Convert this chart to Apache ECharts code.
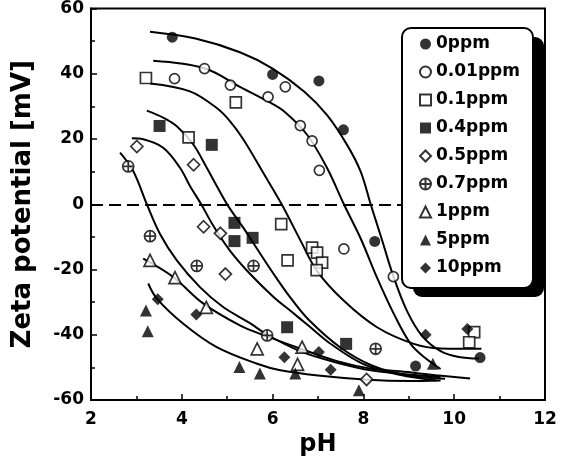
<!DOCTYPE html>
<html>
<head>
<meta charset="utf-8">
<script src="https://cdn.jsdelivr.net/npm/echarts@6/dist/echarts.min.js"></script>
<style>
  html, body { margin: 0; padding: 0; background: #fff; }
  #chart { width: 562px; height: 463px; }
</style>
</head>
<body>
<div id="chart"></div>
<script>
// legend names
var names = ['0ppm', '0.01ppm', '0.1ppm', '0.4ppm', '0.5ppm', '0.7ppm', '1ppm', '5ppm', '10ppm'];

// measured points [pH, mV]
var pts0 = [[3.79, 51.2], [6.0, 39.8], [7.02, 37.8], [7.56, 22.8], [8.25, -11.4], [9.15, -49.6], [10.57, -47]];
var pts001 = [[3.84, 38.5], [4.5, 41.6], [5.07, 36.5], [5.9, 32.9], [6.28, 36], [6.61, 24.1], [6.87, 19.4], [7.03, 10.4], [7.57, -13.7], [8.66, -22.2]];
var pts01 = [[3.21, 38.7], [4.15, 20.5], [5.19, 31.2], [6.19, -6.1], [6.33, -17.2], [6.87, -13.3], [6.98, -14.8], [7.09, -17.9], [6.97, -20.2], [10.44, -39.2], [10.33, -42.3]];
var pts04 = [[3.51, 24], [4.66, 18.2], [5.16, -5.7], [5.16, -11.3], [5.56, -10.3], [6.32, -37.7], [7.62, -42.8]];
var pts05 = [[3.01, 17.7], [4.26, 12.1], [4.48, -6.9], [4.85, -8.9], [4.96, -21.4], [8.07, -53.7]];
var pts07 = [[2.82, 11.6], [3.3, -9.8], [4.33, -18.9], [5.58, -18.9], [5.88, -40.2], [8.27, -44.3]];
var pts1 = [[3.3, -17.2], [3.85, -22.5], [4.54, -31.6], [5.66, -44.3], [6.65, -43.8], [6.55, -49.1]];
var pts5 = [[3.21, -32.6], [3.25, -38.9], [5.27, -49.9], [5.72, -51.9], [6.5, -51.9], [7.9, -57], [9.53, -48.9]];
var pts10 = [[3.47, -29.1], [4.32, -33.8], [6.26, -46.9], [7.02, -45.3], [7.28, -50.7], [9.37, -40], [10.29, -38.2]];

// fitted curves
var curveA = [[3.3, 52.9], [4.3, 50.8], [5.28, 46.6], [6.0, 41.6], [6.7, 34.5], [7.2, 27.3], [7.64, 18.2], [7.94, 10], [8.16, 0], [8.4, -10.5], [8.67, -22.5], [8.97, -33], [9.3, -40.5], [9.7, -45], [10.1, -46.8], [10.55, -47.3]];
var curveB = [[3.37, 44], [4.5, 41.7], [5.28, 36], [5.9, 31.5], [6.25, 28.5], [6.76, 21.3], [7.2, 11.1], [7.57, 0], [7.94, -10.5], [8.3, -22.5], [8.67, -33.6], [9.04, -42.8], [9.35, -47], [9.7, -50.5]];
var curveC = [[3.3, 37], [4.18, 34.6], [4.77, 29.5], [5.06, 25.5], [5.35, 20], [5.8, 9.5], [6.2, 0], [6.61, -11], [6.98, -20.5], [7.57, -29.6], [8.3, -37.7], [9.11, -42.8], [9.7, -44.2], [10.6, -44.3]];
var curveD = [[3.23, 28.7], [3.6, 26.5], [3.89, 23.9], [4.25, 18.4], [4.55, 11.2], [4.77, 5.6], [5.02, -0.5], [5.35, -7.1], [5.65, -13.5], [6.02, -21.3], [6.38, -28.4], [6.8, -35.5], [7.5, -44], [8.2, -49.5], [9.0, -52.5], [9.8, -53.5]];
var curveE = [[2.9, 20.2], [3.15, 19.9], [3.59, 17.3], [3.96, 11.2], [4.18, 5.6], [4.44, -0.3], [4.69, -6.5], [5.06, -14.2], [5.5, -21.3], [6.02, -28.4], [6.38, -32.5], [6.8, -37.3], [7.3, -43], [8.0, -49], [8.8, -52.3], [9.6, -54]];
var curveF = [[2.64, 15.8], [2.93, 10.2], [3.23, 0], [3.52, -9.1], [3.89, -17.2], [4.4, -25.4], [4.91, -31.5], [5.51, -36.5], [5.88, -40], [6.6, -45], [7.4, -48.5], [8.2, -51], [9.0, -52.2], [9.7, -53]];
var curveG = [[3.15, -16.7], [3.81, -22.3], [4.47, -30.4], [5.29, -37.2], [5.88, -40.5], [6.6, -44.2], [7.4, -48], [8.2, -50.5], [8.8, -51.2], [9.6, -52.4], [10.35, -53.4]];
var curveH = [[3.26, -24.3], [3.45, -28.9], [4.04, -36.7], [4.77, -43.8], [5.66, -48.9], [6.17, -50.9], [7.0, -52.5], [8.1, -53.8], [9.0, -54.2], [9.7, -54]];

var font = 'DejaVu Sans';
var circlePlus = 'path://M0,10A10,10,0,1,1,20,10A10,10,0,1,1,0,10ZM0,10L20,10M10,0L10,20';

function pointSeries(name, data, symbol, size, filled) {
    return {
        name: name,
        type: 'scatter',
        data: data,
        symbol: symbol,
        symbolSize: size,
        z: 5,
        itemStyle: filled
            ? { color: '#000' }
            : { color: '#fff', borderColor: '#000', borderWidth: 1.7 }
    };
}

function curveSeries(data) {
    return {
        type: 'line',
        data: data,
        showSymbol: false,
        smooth: 0.35,
        silent: true,
        z: 3,
        lineStyle: { color: '#000', width: 2 }
    };
}

var series = [
    curveSeries(curveA), curveSeries(curveB), curveSeries(curveC), curveSeries(curveD),
    curveSeries(curveE), curveSeries(curveF), curveSeries(curveG), curveSeries(curveH),
    {
        type: 'line',
        data: [],
        markLine: {
            silent: true,
            symbol: 'none',
            label: { show: false },
            lineStyle: { color: '#000', width: 2, type: [12, 6] },
            data: [{ yAxis: 0 }]
        }
    },
    pointSeries(names[0], pts0, 'circle', 11, true),
    pointSeries(names[1], pts001, 'circle', 10, false),
    pointSeries(names[2], pts01, 'rect', 11, false),
    pointSeries(names[3], pts04, 'rect', 12, true),
    pointSeries(names[4], pts05, 'diamond', 12, false),
    pointSeries(names[5], pts07, circlePlus, 11, false),
    pointSeries(names[6], pts1, 'triangle', 12, false),
    pointSeries(names[7], pts5, 'triangle', 12, true),
    pointSeries(names[8], pts10, 'diamond', 12, true)
];

var chart = echarts.init(document.getElementById('chart'));
chart.setOption({
    animation: false,
    backgroundColor: '#fff',
    grid: {
        left: 91, right: 17, top: 7, bottom: 63,
        show: true, borderColor: '#000', borderWidth: 2
    },
    // legend frame with its hard drop shadow
    graphic: [
        { type: 'rect', z: 100, shape: { x: 413, y: 37, width: 131, height: 260, r: 9 }, style: { fill: '#000' } },
        { type: 'rect', z: 101, shape: { x: 402, y: 28, width: 131, height: 260, r: 9 }, style: { fill: '#fff', stroke: '#000', lineWidth: 2 } }
    ],
    legend: {
        data: names,
        orient: 'vertical',
        left: 402,
        top: 28,
        z: 110,
        itemWidth: 11,
        itemHeight: 11,
        itemGap: 10,
        padding: [7, 13, 11, 17],
        selectedMode: false,
        textStyle: { fontFamily: font, fontWeight: 'bold', fontSize: 17, lineHeight: 18, color: '#000' }
    },
    xAxis: {
        type: 'value',
        min: 2, max: 12, interval: 2,
        name: 'pH',
        nameLocation: 'middle',
        nameGap: 27,
        nameTextStyle: { fontFamily: font, fontWeight: 'bold', fontSize: 24, color: '#000' },
        axisLine: { onZero: false, lineStyle: { color: '#000', width: 2 } },
        axisTick: { inside: true, length: 6, lineStyle: { color: '#000', width: 1.5 } },
        minorTick: { show: true, splitNumber: 2, length: 4, lineStyle: { color: '#000', width: 1.5 } },
        splitLine: { show: false },
        axisLabel: { fontFamily: font, fontWeight: 'bold', fontSize: 17, color: '#000', margin: 11 }
    },
    yAxis: {
        type: 'value',
        min: -60, max: 60, interval: 20,
        name: 'Zeta potential [mV]',
        nameLocation: 'middle',
        nameGap: 55,
        nameTextStyle: { fontFamily: font, fontWeight: 'bold', fontSize: 26, color: '#000' },
        axisLine: { onZero: false, lineStyle: { color: '#000', width: 2 } },
        axisTick: { inside: true, length: 6, lineStyle: { color: '#000', width: 1.5 } },
        minorTick: { show: true, splitNumber: 2, length: 4, lineStyle: { color: '#000', width: 1.5 } },
        splitLine: { show: false },
        axisLabel: { fontFamily: font, fontWeight: 'bold', fontSize: 17, color: '#000', margin: 7 }
    },
    series: series
});
</script>
</body>
</html>
